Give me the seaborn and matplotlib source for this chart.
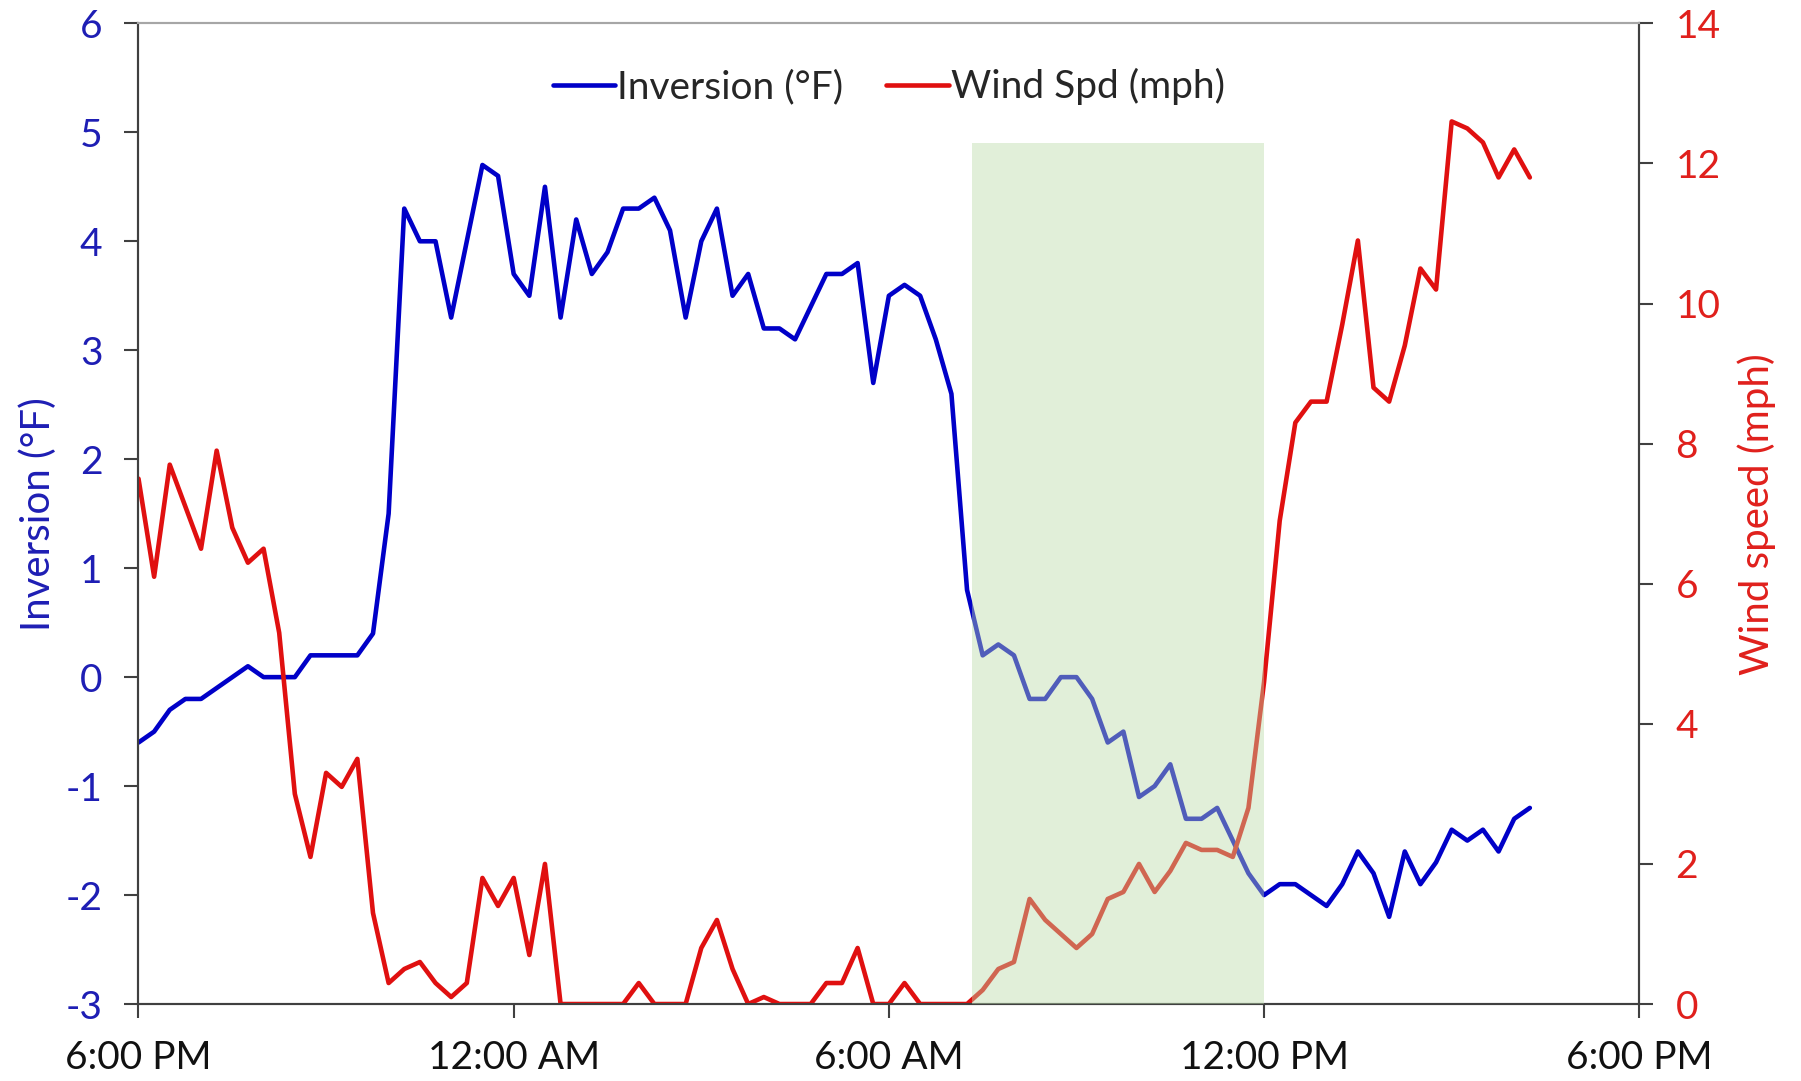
import matplotlib
matplotlib.use("Agg")
import matplotlib.pyplot as plt
import matplotlib.dates as mdates
import matplotlib.ticker as mticker
import seaborn as sns
import pandas as pd

#readings every 15 min from 6 PM
start_time = "2020-01-01 18:00"
step = "15min"

inversion = [-0.6, -0.5, -0.3, -0.2, -0.2, -0.1, 0.0, 0.1, 0.0, 0.0,
             0.0, 0.2, 0.2, 0.2, 0.2, 0.4, 1.5, 4.3, 4.0, 4.0,
             3.3, 4.0, 4.7, 4.6, 3.7, 3.5, 4.5, 3.3, 4.2, 3.7,
             3.9, 4.3, 4.3, 4.4, 4.1, 3.3, 4.0, 4.3, 3.5, 3.7,
             3.2, 3.2, 3.1, 3.4, 3.7, 3.7, 3.8, 2.7, 3.5, 3.6,
             3.5, 3.1, 2.6, 0.8, 0.2, 0.3, 0.2, -0.2, -0.2, 0.0,
             0.0, -0.2, -0.6, -0.5, -1.1, -1.0, -0.8, -1.3, -1.3, -1.2,
             -1.5, -1.8, -2.0, -1.9, -1.9, -2.0, -2.1, -1.9, -1.6, -1.8,
             -2.2, -1.6, -1.9, -1.7, -1.4, -1.5, -1.4, -1.6, -1.3, -1.2]

wind = [7.5, 6.1, 7.7, 7.1, 6.5, 7.9, 6.8, 6.3, 6.5, 5.3,
        3.0, 2.1, 3.3, 3.1, 3.5, 1.3, 0.3, 0.5, 0.6, 0.3,
        0.1, 0.3, 1.8, 1.4, 1.8, 0.7, 2.0, 0.0, 0.0, 0.0,
        0.0, 0.0, 0.3, 0.0, 0.0, 0.0, 0.8, 1.2, 0.5, 0.0,
        0.1, 0.0, 0.0, 0.0, 0.3, 0.3, 0.8, 0.0, 0.0, 0.3,
        0.0, 0.0, 0.0, 0.0, 0.2, 0.5, 0.6, 1.5, 1.2, 1.0,
        0.8, 1.0, 1.5, 1.6, 2.0, 1.6, 1.9, 2.3, 2.2, 2.2,
        2.1, 2.8, 4.6, 6.9, 8.3, 8.6, 8.6, 9.7, 10.9, 8.8,
        8.6, 9.4, 10.5, 10.2, 12.6, 12.5, 12.3, 11.8, 12.2, 11.8]

#shaded period
shade_start = "2020-01-02 07:20"
shade_end = "2020-01-02 12:00"
shade_top = 4.9

df = pd.DataFrame({"time": pd.date_range(start_time, periods=len(inversion), freq=step),
                   "inversion": inversion, "wind": wind})

blue = "#0000C8"
red = "#E01010"
blue_txt = "#1E1EB4"
red_txt = "#E0201C"

sns.set_style("ticks")
plt.rcParams['font.family'] = ['Lato', 'DejaVu Sans']
plt.rcParams['axes.unicode_minus'] = False

fig = plt.figure(figsize=(18.01, 10.81), dpi=100)
ax = fig.add_axes([0.0769, 0.0712, 0.8333, 0.9072])
ax2 = ax.twinx()

sns.lineplot(data=df, x="time", y="inversion", ax=ax, color=blue, lw=3.3,
             label="Inversion (°F)", legend=False)
sns.lineplot(data=df, x="time", y="wind", ax=ax2, color=red, lw=3.3,
             label="Wind Spd (mph)", legend=False)

ax.set_ylim(-3, 6)
ax2.set_ylim(0, 14)
x0 = pd.Timestamp("2020-01-01 18:00")
x1 = pd.Timestamp("2020-01-02 18:00")
ax.set_xlim(x0, x1)
ax.xaxis.set_major_locator(mdates.HourLocator(byhour=[0, 6, 12, 18]))
ax.xaxis.set_major_formatter(mticker.FuncFormatter(
    lambda v, p: mdates.num2date(v).strftime("%I:%M %p").lstrip("0")))

#green box goes over the lines
ax2.axvspan(pd.Timestamp(shade_start), pd.Timestamp(shade_end), ymin=0,
            ymax=(shade_top + 3) / 9, color="#BBDAA9", alpha=0.43, lw=0, zorder=5)

ax.set_yticks(range(-3, 7))
ax2.set_yticks(range(0, 15, 2))

ax.set_xlabel("")
ax.set_ylabel("Inversion (°F)", color=blue_txt, fontsize=29, labelpad=6)
ax2.set_ylabel("Wind speed (mph)", color=red_txt, fontsize=29, labelpad=12)

for a in (ax, ax2):
    for s in a.spines.values():
        s.set_color("#404040")
        s.set_linewidth(1.5)
    a.spines["top"].set_color("#A6A6A6")
    a.tick_params(length=10, width=1.5, color="#404040", labelsize=28, pad=16)

ax.tick_params(axis="y", labelcolor=blue_txt)
ax2.tick_params(axis="y", labelcolor=red_txt)
ax.tick_params(axis="x", labelcolor="#111111", pad=16)

h1, l1 = ax.get_legend_handles_labels()
h2, l2 = ax2.get_legend_handles_labels()
ax2.legend(h1 + h2, l1 + l2, loc="upper center", bbox_to_anchor=(0.5, 0.99),
           ncol=2, frameon=False, fontsize=28, handlelength=1.6,
           handletextpad=0.05, columnspacing=1.1)

fig.savefig("out.png", dpi=100)
